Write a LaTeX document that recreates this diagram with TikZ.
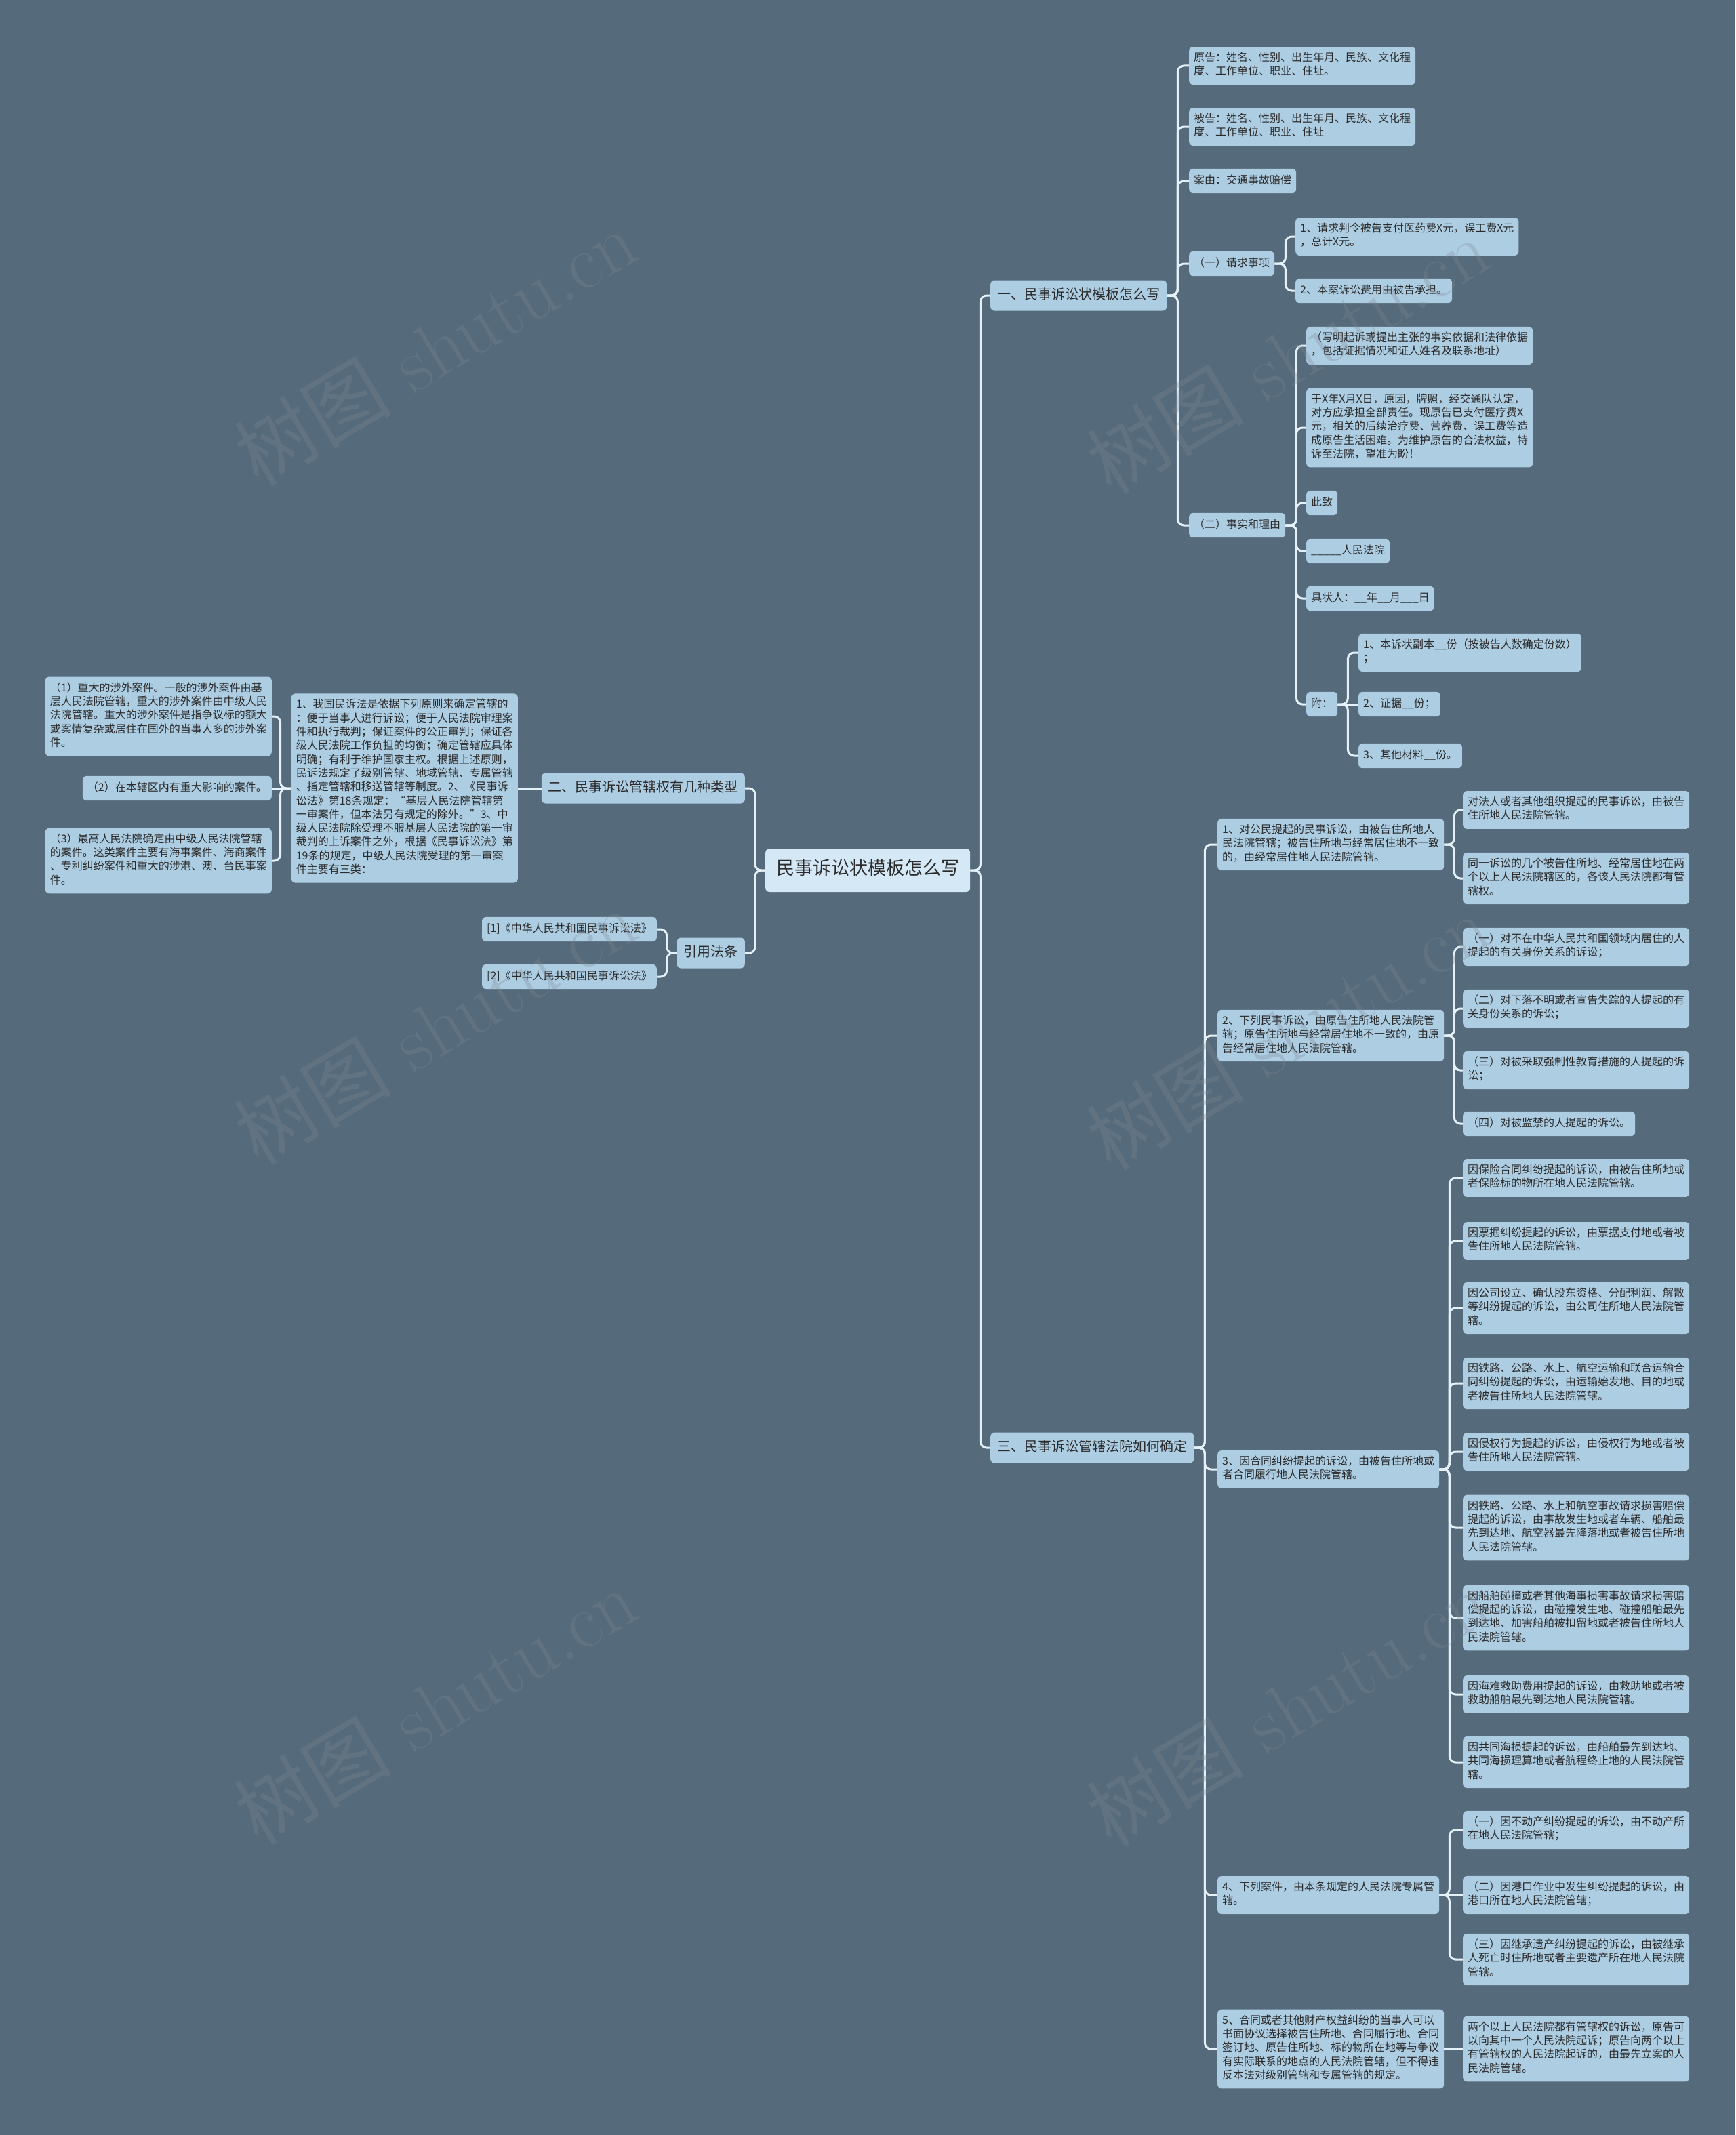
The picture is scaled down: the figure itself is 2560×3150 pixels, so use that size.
\documentclass[tikz,border=0pt]{standalone}
\usepackage{fontspec}
\usepackage{tikz}
\usetikzlibrary{positioning}
\newfontfamily\cjk{Noto Sans CJK SC}
\definecolor{bgc}{HTML}{556A7A}
\definecolor{nodec}{HTML}{ADCDE3}
\definecolor{rootc}{HTML}{D5E8F5}
\definecolor{linec}{HTML}{E4F1F8}
\definecolor{textc}{HTML}{2B2B2B}
\definecolor{wmc}{HTML}{808A94}

\begin{document}
\begin{tikzpicture}[
    x=1pt, y=-1pt,
    every node/.style={text=textc},
    leaf/.style={fill=nodec, rounded corners=6pt, inner xsep=7pt, inner ysep=8pt,
                 align=left, font=\cjk\fontsize{16}{20.3}\selectfont,
                 execute at begin node=\strut, execute at end node=\strut},
    topic/.style={leaf, inner xsep=10pt, inner ysep=10pt, font=\cjk\fontsize{20}{25}\selectfont},
    rootbox/.style={leaf, fill=rootc, inner xsep=16pt, inner ysep=15pt, font=\cjk\fontsize{27}{34}\selectfont},
    link/.style={draw=linec, line width=3pt, rounded corners=9pt},
    wmark/.style={text=wmc, opacity=0.3, rotate=31, font=\fontsize{116}{116}\selectfont},
]
    \fill[bgc] (0,0) rectangle (2560,3150);
    \useasboundingbox (0,0) rectangle (2560,3150);

    % centre and main topics
    \node[rootbox, anchor=west] (root) at (1129,1284) {民事诉讼状模板怎么写};
    \node[topic, anchor=west] (s1) at (1461,436) {一、民事诉讼状模板怎么写};
    \node[topic, anchor=east] (s2) at (1099,1163) {二、民事诉讼管辖权有几种类型};
    \node[topic, anchor=east] (cite) at (1099,1406) {引用法条};
    \node[topic, anchor=west] (s3) at (1461,2136) {三、民事诉讼管辖法院如何确定};

    % topic one
    \node[leaf, anchor=west] (s1a) at (1754,97) {原告：姓名、性别、出生年月、民族、文化程\\度、工作单位、职业、住址。};
    \node[leaf, anchor=west] (s1b) at (1754,187) {被告：姓名、性别、出生年月、民族、文化程\\度、工作单位、职业、住址};
    \node[leaf, anchor=west] (s1c) at (1754,267) {案由：交通事故赔偿};
    \node[leaf, anchor=west] (s1d) at (1754,389) {（一）请求事项};
    \node[leaf, anchor=west] (s1e) at (1754,775) {（二）事实和理由};

    \node[leaf, anchor=west] (req1) at (1911,349) {1、请求判令被告支付医药费X元，误工费X元\\，总计X元。};
    \node[leaf, anchor=west] (req2) at (1911,429) {2、本案诉讼费用由被告承担。};

    \node[leaf, anchor=west] (fact1) at (1927,510) {（写明起诉或提出主张的事实依据和法律依据\\，包括证据情况和证人姓名及联系地址）};
    \node[leaf, anchor=west] (fact2) at (1927,631) {于X年X月X日，原因，牌照，经交通队认定，\\对方应承担全部责任。现原告已支付医疗费X\\元，相关的后续治疗费、营养费、误工费等造\\成原告生活困难。为维护原告的合法权益，特\\诉至法院，望准为盼！};
    \node[leaf, anchor=west] (fact3) at (1927,742) {此致};
    \node[leaf, anchor=west] (fact4) at (1927,813) {\_\_\_\_\_人民法院};
    \node[leaf, anchor=west] (fact5) at (1927,883) {具状人：\_\_年\_\_月\_\_\_日};
    \node[leaf, anchor=west] (fact6) at (1927,1039) {附：};

    \node[leaf, anchor=west] (att1) at (2004,963) {1、本诉状副本\_\_份（按被告人数确定份数）\\；};
    \node[leaf, anchor=west] (att2) at (2004,1039) {2、证据\_\_份；};
    \node[leaf, anchor=west] (att3) at (2004,1115) {3、其他材料\_\_份。};

    % topic two
    \node[leaf, anchor=east] (kind) at (764,1163) {1、我国民诉法是依据下列原则来确定管辖的\\：便于当事人进行诉讼；便于人民法院审理案\\件和执行裁判；保证案件的公正审判；保证各\\级人民法院工作负担的均衡；确定管辖应具体\\明确；有利于维护国家主权。根据上述原则，\\民诉法规定了级别管辖、地域管辖、专属管辖\\、指定管辖和移送管辖等制度。2、《民事诉\\讼法》第18条规定：“基层人民法院管辖第\\一审案件，但本法另有规定的除外。”3、中\\级人民法院除受理不服基层人民法院的第一审\\裁判的上诉案件之外，根据《民事诉讼法》第\\19条的规定，中级人民法院受理的第一审案\\件主要有三类：};
    \node[leaf, anchor=east] (kind1) at (401,1057) {（1）重大的涉外案件。一般的涉外案件由基\\层人民法院管辖，重大的涉外案件由中级人民\\法院管辖。重大的涉外案件是指争议标的额大\\或案情复杂或居住在国外的当事人多的涉外案\\件。};
    \node[leaf, anchor=east] (kind2) at (401,1163) {（2）在本辖区内有重大影响的案件。};
    \node[leaf, anchor=east] (kind3) at (401,1270) {（3）最高人民法院确定由中级人民法院管辖\\的案件。这类案件主要有海事案件、海商案件\\、专利纠纷案件和重大的涉港、澳、台民事案\\件。};

    \node[leaf, anchor=east] (law1) at (969,1371) {[1]《中华人民共和国民事诉讼法》};
    \node[leaf, anchor=east] (law2) at (969,1441) {[2]《中华人民共和国民事诉讼法》};

    % topic three
    \node[leaf, anchor=west] (r1) at (1796,1246) {1、对公民提起的民事诉讼，由被告住所地人\\民法院管辖；被告住所地与经常居住地不一致\\的，由经常居住地人民法院管辖。};
    \node[leaf, anchor=west] (r2) at (1796,1528) {2、下列民事诉讼，由原告住所地人民法院管\\辖；原告住所地与经常居住地不一致的，由原\\告经常居住地人民法院管辖。};
    \node[leaf, anchor=west] (r3) at (1796,2168) {3、因合同纠纷提起的诉讼，由被告住所地或\\者合同履行地人民法院管辖。};
    \node[leaf, anchor=west] (r4) at (1796,2796) {4、下列案件，由本条规定的人民法院专属管\\辖。};
    \node[leaf, anchor=west] (r5) at (1796,3023) {5、合同或者其他财产权益纠纷的当事人可以\\书面协议选择被告住所地、合同履行地、合同\\签订地、原告住所地、标的物所在地等与争议\\有实际联系的地点的人民法院管辖，但不得违\\反本法对级别管辖和专属管辖的规定。};

    \node[leaf, anchor=west] (r1a) at (2158,1195) {对法人或者其他组织提起的民事诉讼，由被告\\住所地人民法院管辖。};
    \node[leaf, anchor=west] (r1b) at (2158,1296) {同一诉讼的几个被告住所地、经常居住地在两\\个以上人民法院辖区的，各该人民法院都有管\\辖权。};

    \node[leaf, anchor=west] (r2a) at (2158,1397) {（一）对不在中华人民共和国领域内居住的人\\提起的有关身份关系的诉讼；};
    \node[leaf, anchor=west] (r2b) at (2158,1488) {（二）对下落不明或者宣告失踪的人提起的有\\关身份关系的诉讼；};
    \node[leaf, anchor=west] (r2c) at (2158,1579) {（三）对被采取强制性教育措施的人提起的诉\\讼；};
    \node[leaf, anchor=west] (r2d) at (2158,1658) {（四）对被监禁的人提起的诉讼。};

    \node[leaf, anchor=west] (r3a) at (2158,1738) {因保险合同纠纷提起的诉讼，由被告住所地或\\者保险标的物所在地人民法院管辖。};
    \node[leaf, anchor=west] (r3b) at (2158,1831) {因票据纠纷提起的诉讼，由票据支付地或者被\\告住所地人民法院管辖。};
    \node[leaf, anchor=west] (r3c) at (2158,1930) {因公司设立、确认股东资格、分配利润、解散\\等纠纷提起的诉讼，由公司住所地人民法院管\\辖。};
    \node[leaf, anchor=west] (r3d) at (2158,2041) {因铁路、公路、水上、航空运输和联合运输合\\同纠纷提起的诉讼，由运输始发地、目的地或\\者被告住所地人民法院管辖。};
    \node[leaf, anchor=west] (r3e) at (2158,2142) {因侵权行为提起的诉讼，由侵权行为地或者被\\告住所地人民法院管辖。};
    \node[leaf, anchor=west] (r3f) at (2158,2254) {因铁路、公路、水上和航空事故请求损害赔偿\\提起的诉讼，由事故发生地或者车辆、船舶最\\先到达地、航空器最先降落地或者被告住所地\\人民法院管辖。};
    \node[leaf, anchor=west] (r3g) at (2158,2387) {因船舶碰撞或者其他海事损害事故请求损害赔\\偿提起的诉讼，由碰撞发生地、碰撞船舶最先\\到达地、加害船舶被扣留地或者被告住所地人\\民法院管辖。};
    \node[leaf, anchor=west] (r3h) at (2158,2500) {因海难救助费用提起的诉讼，由救助地或者被\\救助船舶最先到达地人民法院管辖。};
    \node[leaf, anchor=west] (r3i) at (2158,2600) {因共同海损提起的诉讼，由船舶最先到达地、\\共同海损理算地或者航程终止地的人民法院管\\辖。};

    \node[leaf, anchor=west] (r4a) at (2158,2700) {（一）因不动产纠纷提起的诉讼，由不动产所\\在地人民法院管辖；};
    \node[leaf, anchor=west] (r4b) at (2158,2796) {（二）因港口作业中发生纠纷提起的诉讼，由\\港口所在地人民法院管辖；};
    \node[leaf, anchor=west] (r4c) at (2158,2891) {（三）因继承遗产纠纷提起的诉讼，由被继承\\人死亡时住所地或者主要遗产所在地人民法院\\管辖。};

    \node[leaf, anchor=west] (r5a) at (2158,3023) {两个以上人民法院都有管辖权的诉讼，原告可\\以向其中一个人民法院起诉；原告向两个以上\\有管辖权的人民法院起诉的，由最先立案的人\\民法院管辖。};

    % branches, right hand side
    \foreach \c in {s1,s3} \draw[link] (root.east) -- ++(15,0) |- (\c.west);
    \foreach \c in {s1a,s1b,s1c,s1d,s1e} \draw[link] (s1.east) -- ++(16,0) |- (\c.west);
    \foreach \c in {req1,req2} \draw[link] (s1d.east) -- ++(16,0) |- (\c.west);
    \foreach \c in {fact1,fact2,fact3,fact4,fact5,fact6} \draw[link] (s1e.east) -- ++(16,0) |- (\c.west);
    \foreach \c in {att1,att3} \draw[link] (fact6.east) -- ++(15,0) |- (\c.west);
    \draw[link] (fact6.east) -- (att2.west);
    \foreach \c in {r1,r2,r3,r4,r5} \draw[link] (s3.east) -- ++(16,0) |- (\c.west);
    \foreach \c in {r1a,r1b} \draw[link] (r1.east) -- ++(15,0) |- (\c.west);
    \foreach \c in {r2a,r2b,r2c,r2d} \draw[link] (r2.east) -- ++(15,0) |- (\c.west);
    \foreach \c in {r3a,r3b,r3c,r3d,r3e,r3f,r3g,r3h,r3i} \draw[link] (r3.east) -- ++(15,0) |- (\c.west);
    \foreach \c in {r4a,r4c} \draw[link] (r4.east) -- ++(15,0) |- (\c.west);
    \draw[link] (r4.east) -- (r4b.west);
    \draw[link] (r5.east) -- (r5a.west);

    % branches, left hand side
    \foreach \c in {s2,cite} \draw[link] (root.west) -- ++(-15,0) |- (\c.east);
    \draw[link] (s2.west) -- (kind.east);
    \foreach \c in {kind1,kind3} \draw[link] (kind.west) -- ++(-16,0) |- (\c.east);
    \draw[link] (kind.west) -- (kind2.east);
    \foreach \c in {law1,law2} \draw[link] (cite.west) -- ++(-15,0) |- (\c.east);

    % watermark
    \foreach \wx/\wy [count=\i] in {642/512,1900/524,642/1514,1900/1522,642/2517,1900/2519}
        \node[wmark] (wm\i) at (\wx,\wy) {{\cjk 树图} shutu.cn};
\end{tikzpicture}
\end{document}
